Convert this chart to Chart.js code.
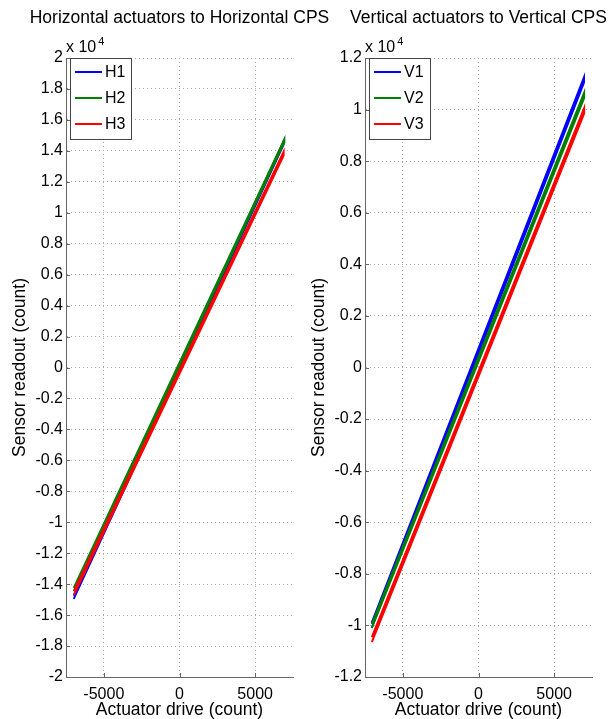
<!DOCTYPE html>
<html>
<head>
<meta charset="utf-8">
<title>Actuator to CPS response</title>
<script src="https://cdn.jsdelivr.net/npm/chart.js@4.4.1/dist/chart.umd.min.js"></script>
<style>
  html, body { margin: 0; padding: 0; background: #fff; overflow: hidden; }
  #wrap { position: relative; width: 608px; height: 719px; }
  canvas { position: absolute; top: 0; }
  #hChart { left: 0; }
  #vChart { left: 299px; }
</style>
</head>
<body>
<div id="wrap">
  <canvas id="hChart" width="356" height="719"></canvas>
  <canvas id="vChart" width="356" height="719"></canvas>
</div>
<script>
// Each trace is a thin hysteresis loop: drive goes up, then back down
const h1Drive = [-6990, 6900, 6900, -6990];
const h1Read  = [-14950, 14450, 14650, -14750];
const h2Drive = [-6990, 6930, 6930, -6990];
const h2Read  = [-14450, 14550, 14750, -14250];
const h3Drive = [-6980, 6880, 6880, -6980];
const h3Read  = [-14700, 13700, 13950, -14450];

const v1Drive = [-7060, 6970, 6970, -7060];
const v1Read  = [-10100, 11050, 11250, -9900];
const v2Drive = [-7050, 6980, 6980, -7050];
const v2Read  = [-10100, 10450, 10650, -9950];
const v3Drive = [-7050, 6980, 6980, -7050];
const v3Read  = [-10650, 9850, 10050, -10450];

const xTicks = [-5000, 0, 5000];
const hTicks = [-20000, -18000, -16000, -14000, -12000, -10000, -8000, -6000, -4000, -2000,
                0, 2000, 4000, 6000, 8000, 10000, 12000, 14000, 16000, 18000, 20000];
const vTicks = [-12000, -10000, -8000, -6000, -4000, -2000, 0, 2000, 4000, 6000, 8000, 10000, 12000];

const colors = ['#0000ff', '#007f00', '#ff0000'];
const FONT = '"Liberation Sans", Arial, Helvetica, sans-serif';

function toPoints(xs, ys) {
    return xs.map((x, i) => ({ x: x, y: ys[i] }));
}

// title over the axes, exponent label, inward ticks and boxed legend (matlab style)
const matlabDecor = {
    id: 'matlabDecor',
    afterDraw(chart, args, opts) {
        const { ctx, chartArea: a, scales } = chart;
        ctx.save();
        ctx.fillStyle = '#000';
        ctx.textAlign = 'center';
        ctx.textBaseline = 'middle';
        ctx.font = '17.5px ' + FONT;
        ctx.fillText(opts.title, (a.left + a.right) / 2, 18);

        ctx.textAlign = 'left';
        ctx.textBaseline = 'alphabetic';
        ctx.font = '16px ' + FONT;
        ctx.fillText('x 10', a.left, a.top - 6);
        const w = ctx.measureText('x 10').width;
        ctx.font = '11px ' + FONT;
        ctx.fillText('4', a.left + w + 2, a.top - 13);

        // inward tick marks
        ctx.strokeStyle = '#666';
        ctx.lineWidth = 1;
        ctx.beginPath();
        scales.y.ticks.forEach(t => {
            const py = Math.round(scales.y.getPixelForValue(t.value)) + 0.5;
            ctx.moveTo(a.left, py);
            ctx.lineTo(a.left + 4, py);
        });
        scales.x.ticks.forEach(t => {
            const px = Math.round(scales.x.getPixelForValue(t.value)) + 0.5;
            ctx.moveTo(px, a.bottom);
            ctx.lineTo(px, a.bottom - 4);
        });
        ctx.stroke();

        const bx = a.left + 4, by = a.top, bw = 61, bh = 81;
        ctx.fillStyle = '#fff';
        ctx.fillRect(bx, by, bw, bh);
        ctx.strokeStyle = '#444';
        ctx.strokeRect(bx + 0.5, by + 0.5, bw, bh);
        chart.data.datasets.forEach((ds, i) => {
            const y = by + 14 + i * 26;
            ctx.strokeStyle = ds.borderColor;
            ctx.lineWidth = 2;
            ctx.beginPath();
            ctx.moveTo(bx + 5, y);
            ctx.lineTo(bx + 32, y);
            ctx.stroke();
            ctx.fillStyle = '#000';
            ctx.font = '16px ' + FONT;
            ctx.textBaseline = 'middle';
            ctx.fillText(ds.label, bx + 35, y + 1);
        });
        ctx.restore();
    }
};

function makeChart(id, title, labels, drives, reads, yTicks) {
    const yMax = yTicks[yTicks.length - 1];
    return new Chart(document.getElementById(id), {
        type: 'line',
        data: {
            datasets: labels.map((lab, i) => ({
                label: lab,
                data: toPoints(drives[i], reads[i]),
                borderColor: colors[i],
                borderWidth: 2,
                pointRadius: 0,
                tension: 0,
                fill: false,
                order: labels.length - i  // later series drawn on top
            }))
        },
        options: {
            responsive: false,
            animation: false,
            layout: { padding: { left: 0, right: 63, top: 58, bottom: 0 } },
            plugins: {
                legend: { display: false },
                tooltip: { enabled: false },
                matlabDecor: { title: title }
            },
            scales: {
                x: {
                    type: 'linear',
                    min: -7500,
                    max: 7500,
                    afterBuildTicks: s => { s.ticks = xTicks.map(v => ({ value: v })); },
                    afterFit: s => { s.height = 42; },
                    grid: { color: '#a8a8a8', drawTicks: false },
                    border: { color: '#666', dash: [1, 3] },
                    ticks: { color: '#000', padding: 8, font: { family: FONT, size: 16 }, callback: v => String(v) },
                    title: {
                        display: true,
                        text: 'Actuator drive (count)',
                        color: '#000',
                        font: { family: FONT, size: 17.5, lineHeight: 1 },
                        padding: { top: 0, bottom: 0 }
                    }
                },
                y: {
                    min: -yMax,
                    max: yMax,
                    afterBuildTicks: s => { s.ticks = yTicks.map(v => ({ value: v })); },
                    afterFit: s => { s.width = 66; },
                    grid: { color: '#a8a8a8', drawTicks: false },
                    border: { color: '#666', dash: [1, 3] },
                    ticks: { color: '#000', padding: 3, font: { family: FONT, size: 16 }, callback: v => String(v / 10000) },
                    title: {
                        display: true,
                        text: 'Sensor readout (count)',
                        color: '#000',
                        font: { family: FONT, size: 17.5, lineHeight: 1 },
                        padding: { top: 11, bottom: 0 }
                    }
                }
            }
        },
        plugins: [matlabDecor]
    });
}

makeChart('hChart', 'Horizontal actuators to Horizontal CPS', ['H1', 'H2', 'H3'],
    [h1Drive, h2Drive, h3Drive], [h1Read, h2Read, h3Read], hTicks);
makeChart('vChart', 'Vertical actuators to Vertical CPS', ['V1', 'V2', 'V3'],
    [v1Drive, v2Drive, v3Drive], [v1Read, v2Read, v3Read], vTicks);
</script>
</body>
</html>
